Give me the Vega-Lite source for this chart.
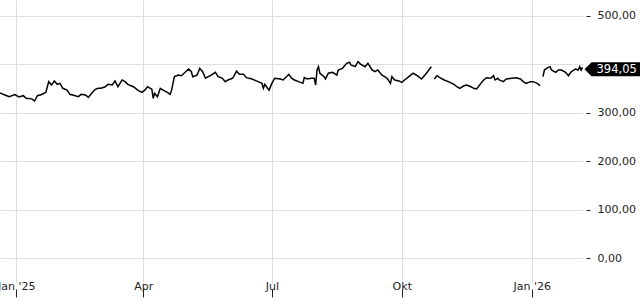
{
  "$schema": "https://vega.github.io/schema/vega-lite/v6.json",
  "width": 583,
  "height": 283,
  "autosize": {"type": "none"},
  "padding": {"left": 0, "top": 0, "right": 57, "bottom": 17},
  "background": "white",
  "config": {
    "font": "DejaVu Sans",
    "view": {"stroke": null},
    "locale": {"number": {"decimal": ",", "thousands": ".", "grouping": [3], "currency": ["", " €"]}}
  },
  "data": {"values": [
    {"date":"2024-12-20","price":341.7},{"date":"2024-12-24","price":337},{"date":"2024-12-27","price":333.5},{"date":"2024-12-31","price":338},
    {"date":"2025-01-03","price":333},{"date":"2025-01-06","price":335.5},{"date":"2025-01-08","price":330},{"date":"2025-01-12","price":329},
    {"date":"2025-01-14","price":324.6},{"date":"2025-01-16","price":335.5},{"date":"2025-01-19","price":338},{"date":"2025-01-22","price":342.5},
    {"date":"2025-01-24","price":364.5},{"date":"2025-01-26","price":357.6},{"date":"2025-01-28","price":365.9},{"date":"2025-01-30","price":359},
    {"date":"2025-02-01","price":361},{"date":"2025-02-03","price":350.8},{"date":"2025-02-06","price":347},{"date":"2025-02-08","price":338.4},
    {"date":"2025-02-10","price":337},{"date":"2025-02-14","price":333.5},{"date":"2025-02-16","price":338.4},{"date":"2025-02-19","price":337},
    {"date":"2025-02-21","price":332},{"date":"2025-02-24","price":342.5},{"date":"2025-02-26","price":348.7},{"date":"2025-02-28","price":351},
    {"date":"2025-03-02","price":350.8},{"date":"2025-03-05","price":354},{"date":"2025-03-07","price":359},{"date":"2025-03-10","price":357.6},
    {"date":"2025-03-12","price":366},{"date":"2025-03-14","price":354},{"date":"2025-03-17","price":368},{"date":"2025-03-19","price":364.5},
    {"date":"2025-03-21","price":359},{"date":"2025-03-25","price":354},{"date":"2025-03-28","price":347},{"date":"2025-03-31","price":342.5},
    {"date":"2025-04-02","price":347},{"date":"2025-04-04","price":354},{"date":"2025-04-07","price":349},{"date":"2025-04-08","price":330},
    {"date":"2025-04-09","price":340.5},{"date":"2025-04-11","price":333.5},{"date":"2025-04-13","price":350.8},{"date":"2025-04-15","price":347},
    {"date":"2025-04-18","price":342.5},{"date":"2025-04-20","price":338.4},{"date":"2025-04-21","price":347},{"date":"2025-04-23","price":374.8},
    {"date":"2025-04-26","price":378},{"date":"2025-04-28","price":376.8},{"date":"2025-05-01","price":385},{"date":"2025-05-03","price":390.6},
    {"date":"2025-05-05","price":385},{"date":"2025-05-06","price":374.8},{"date":"2025-05-09","price":378},{"date":"2025-05-11","price":392},
    {"date":"2025-05-13","price":385},{"date":"2025-05-15","price":371.5},{"date":"2025-05-17","price":374.8},{"date":"2025-05-19","price":378},
    {"date":"2025-05-22","price":383.8},{"date":"2025-05-24","price":374.8},{"date":"2025-05-27","price":371.5},{"date":"2025-05-29","price":364.5},
    {"date":"2025-05-31","price":368},{"date":"2025-06-03","price":371.5},{"date":"2025-06-04","price":374.8},{"date":"2025-06-06","price":386.5},
    {"date":"2025-06-08","price":379.7},{"date":"2025-06-11","price":379.7},{"date":"2025-06-13","price":372.7},{"date":"2025-06-17","price":370},
    {"date":"2025-06-20","price":366},{"date":"2025-06-24","price":361},{"date":"2025-06-25","price":350.8},{"date":"2025-06-26","price":359},
    {"date":"2025-06-29","price":347},{"date":"2025-07-01","price":361},{"date":"2025-07-03","price":371.5},{"date":"2025-07-07","price":370},
    {"date":"2025-07-09","price":368},{"date":"2025-07-13","price":379.7},{"date":"2025-07-15","price":371.5},{"date":"2025-07-17","price":368},
    {"date":"2025-07-20","price":364.5},{"date":"2025-07-23","price":361},{"date":"2025-07-24","price":372.7},{"date":"2025-07-26","price":370},
    {"date":"2025-07-29","price":371.5},{"date":"2025-07-31","price":371.5},{"date":"2025-08-01","price":357.6},{"date":"2025-08-02","price":388.6},
    {"date":"2025-08-03","price":395.4},{"date":"2025-08-04","price":381.8},{"date":"2025-08-07","price":374.8},{"date":"2025-08-08","price":370},
    {"date":"2025-08-10","price":381.8},{"date":"2025-08-13","price":383.8},{"date":"2025-08-16","price":378},{"date":"2025-08-17","price":388.6},
    {"date":"2025-08-20","price":392},{"date":"2025-08-23","price":402.4},{"date":"2025-08-25","price":404.5},{"date":"2025-08-26","price":398.9},
    {"date":"2025-08-29","price":395.4},{"date":"2025-08-31","price":405.7},{"date":"2025-09-02","price":400.3},{"date":"2025-09-05","price":395.4},
    {"date":"2025-09-07","price":402.4},{"date":"2025-09-10","price":388.6},{"date":"2025-09-12","price":385},{"date":"2025-09-14","price":388.6},
    {"date":"2025-09-17","price":378},{"date":"2025-09-19","price":374.8},{"date":"2025-09-21","price":370},{"date":"2025-09-23","price":361},
    {"date":"2025-09-24","price":374.8},{"date":"2025-09-26","price":368},{"date":"2025-09-29","price":366},{"date":"2025-10-01","price":363},
    {"date":"2025-10-03","price":368},{"date":"2025-10-06","price":374.8},{"date":"2025-10-09","price":381.8},{"date":"2025-10-12","price":376.8},
    {"date":"2025-10-15","price":370},{"date":"2025-10-17","price":376.8},{"date":"2025-10-19","price":383.8},{"date":"2025-10-21","price":392},
    {"date":"2025-10-22","price":395.4},{"date":"2025-10-23","price":null},{"date":"2025-10-24","price":370},{"date":"2025-10-26","price":376.8},
    {"date":"2025-10-28","price":372.7},{"date":"2025-10-31","price":368},{"date":"2025-11-03","price":364.5},{"date":"2025-11-07","price":359},
    {"date":"2025-11-09","price":354},{"date":"2025-11-11","price":350.8},{"date":"2025-11-14","price":356},{"date":"2025-11-16","price":357.6},
    {"date":"2025-11-19","price":354},{"date":"2025-11-21","price":350.8},{"date":"2025-11-23","price":349.4},{"date":"2025-11-26","price":361},
    {"date":"2025-11-28","price":368},{"date":"2025-11-30","price":372.7},{"date":"2025-12-03","price":371.5},{"date":"2025-12-05","price":376.8},
    {"date":"2025-12-06","price":368},{"date":"2025-12-08","price":371.5},{"date":"2025-12-09","price":368},{"date":"2025-12-12","price":364.5},
    {"date":"2025-12-14","price":370},{"date":"2025-12-18","price":371.5},{"date":"2025-12-21","price":372.7},{"date":"2025-12-24","price":370},
    {"date":"2025-12-26","price":364.5},{"date":"2025-12-28","price":361},{"date":"2025-12-31","price":364.5},{"date":"2026-01-02","price":364.5},
    {"date":"2026-01-05","price":361},{"date":"2026-01-07","price":356},{"date":"2026-01-08","price":null},{"date":"2026-01-09","price":374.8},
    {"date":"2026-01-10","price":388.6},{"date":"2026-01-12","price":393},{"date":"2026-01-14","price":395.4},{"date":"2026-01-15","price":388.6},
    {"date":"2026-01-18","price":383.8},{"date":"2026-01-20","price":388.6},{"date":"2026-01-22","price":388.6},{"date":"2026-01-25","price":383.8},
    {"date":"2026-01-27","price":376.8},{"date":"2026-01-29","price":385},{"date":"2026-02-01","price":390.6},{"date":"2026-02-03","price":388.6},
    {"date":"2026-02-04","price":395.4},{"date":"2026-02-05","price":388.6},{"date":"2026-02-06","price":394.05}
  ]},
  "encoding": {
    "x": {
      "field": "date", "type": "temporal",
      "scale": {"type": "utc", "domain": [
        {"year": 2024, "month": 12, "date": 20, "hours": 12, "utc": true},
        {"year": 2026, "month": 2, "date": 6, "hours": 8, "utc": true}
      ]},
      "axis": {
        "title": null,
        "values": [
          {"year": 2025, "month": 1, "date": 1, "utc": true},
          {"year": 2025, "month": 4, "date": 1, "utc": true},
          {"year": 2025, "month": 7, "date": 1, "utc": true},
          {"year": 2025, "month": 10, "date": 1, "utc": true},
          {"year": 2026, "month": 1, "date": 1, "utc": true}
        ],
        "labelExpr": "utcmonth(datum.value)==0 ? \"Jan '\" + utcFormat(datum.value, '%y') : ['Jan','Feb','Mär','Apr','Mai','Jun','Jul','Aug','Sep','Okt','Nov','Dez'][utcmonth(datum.value)]",
        "grid": true, "gridColor": "#dddddd", "gridWidth": 1,
        "domain": false, "offset": 6, "tickSize": 8, "tickColor": "#222222",
        "labelPadding": -7.5, "labelBaseline": "alphabetic", "labelFontSize": 11, "labelColor": "#222222",
        "labelFlush": false, "labelOverlap": false
      }
    },
    "y": {
      "field": "price", "type": "quantitative",
      "scale": {"domain": [-51, 533], "nice": false, "zero": false},
      "axis": {
        "orient": "right", "title": null,
        "values": [0, 100, 200, 300, 400, 500],
        "format": ".2f",
        "labelExpr": "datum.value == 400 ? '' : datum.label",
        "grid": true, "gridColor": "#dddddd", "gridWidth": 1,
        "domain": false, "offset": 3, "tickSize": 4,
        "tickColor": {"condition": {"test": "datum.value == 400", "value": "transparent"}, "value": "#222222"},
        "labelPadding": 7, "labelFontSize": 11, "labelColor": "#222222"
      }
    }
  },
  "layer": [
    {
      "mark": {"type": "line", "color": "#000000", "strokeWidth": 1.5, "invalid": "break-paths-show-domains"}
    },
    {
      "transform": [{"filter": "datum.price == 394.05"}],
      "mark": {
        "type": "point", "filled": true, "opacity": 1, "color": "#000000", "strokeWidth": 0, "size": 400,
        "shape": "M0.2,0.2 L0.9,-0.5 L6,-0.5 L6,0.9 L0.9,0.9 Z"
      }
    },
    {
      "transform": [{"filter": "datum.price == 394.05"}],
      "mark": {"type": "text", "color": "#ffffff", "align": "left", "baseline": "middle", "dx": 14, "dy": 2.5, "fontSize": 11.5},
      "encoding": {"text": {"field": "price", "type": "quantitative", "format": ".2f"}}
    }
  ]
}
